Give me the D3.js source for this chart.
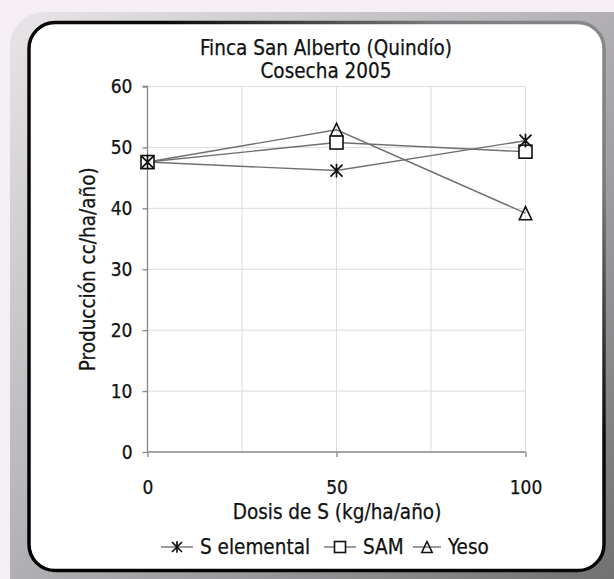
<!DOCTYPE html>
<html><head><meta charset="utf-8">
<script src="https://cdn.jsdelivr.net/npm/d3@7"></script>
<style>
html,body{margin:0;padding:0;background:#f5eff3;}
svg{display:block;}
text{font-family:"DejaVu Sans Condensed","DejaVu Sans",sans-serif;font-stretch:condensed;fill:#111;stroke:#111;stroke-width:0.25px;}
</style></head>
<body>
<script>
const doses = [0, 50, 100];
const seriesNames = ["S elemental", "SAM", "Yeso"];
const sElemental = [47.6, 46.2, 51.1];
const sam = [47.6, 50.8, 49.3];
const yeso = [47.6, 52.9, 39.2];
const yTicks = [0, 10, 20, 30, 40, 50, 60];
const xTicks = [0, 50, 100];
const xGrid = [25, 50, 75, 100];
const titleLines = ["Finca San Alberto (Quindío)", "Cosecha 2005"];
const xTitle = "Dosis de S (kg/ha/año)";
const yTitle = "Producción cc/ha/año)";

const W = 614, H = 579;
const svg = d3.select("body").append("svg").attr("width", W).attr("height", H);
const defs = svg.append("defs");

const g1 = defs.append("linearGradient").attr("id","bevel").attr("x1",0).attr("y1",0).attr("x2",1).attr("y2",1);
g1.append("stop").attr("offset",0).attr("stop-color","#e8e4e8");
g1.append("stop").attr("offset",0.45).attr("stop-color","#b4b2b6");
g1.append("stop").attr("offset",1).attr("stop-color","#6a6a6a");
const g2 = defs.append("linearGradient").attr("id","edge").attr("x1",0).attr("y1",1).attr("x2",1).attr("y2",0);
g2.append("stop").attr("offset",0).attr("stop-color","#000");
g2.append("stop").attr("offset",0.62).attr("stop-color","#0a0a0a");
g2.append("stop").attr("offset",0.85).attr("stop-color","#7a7a7a");
g2.append("stop").attr("offset",1).attr("stop-color","#8a8a8a");

svg.append("rect").attr("x",10).attr("y",12).attr("width",640).attr("height",600)
  .attr("rx",34).attr("fill","url(#bevel)");
svg.append("rect").attr("x",29).attr("y",22.5).attr("width",575).attr("height",548)
  .attr("rx",26).attr("fill","#fff").attr("stroke","url(#edge)").attr("stroke-width",3.5);

const x = d3.scaleLinear().domain([0,100]).range([147.5,525.5]);
const y = d3.scaleLinear().domain([0,60]).range([452,86.5]);

svg.append("g").selectAll("line").data(yTicks.filter(d=>d>0)).join("line")
  .attr("x1",x(0)).attr("x2",x(100)).attr("y1",d=>y(d)).attr("y2",d=>y(d))
  .attr("stroke","#dcdcdc").attr("stroke-width",1);
svg.append("g").selectAll("line").data(xGrid).join("line")
  .attr("x1",d=>x(d)).attr("x2",d=>x(d)).attr("y1",y(0)).attr("y2",y(60))
  .attr("stroke","#dcdcdc").attr("stroke-width",1);

const yAxis = svg.append("g").attr("transform",`translate(${x(0)},0)`)
  .call(d3.axisLeft(y).tickValues(yTicks).tickSize(5).tickPadding(10).tickFormat(d3.format("d")));
const xAxis = svg.append("g").attr("transform",`translate(0,${y(0)})`)
  .call(d3.axisBottom(x).tickValues(xTicks).tickSize(5).tickPadding(24).tickFormat(d3.format("d")));
[yAxis,xAxis].forEach(a=>{
  a.select(".domain").attr("stroke","#858585").attr("stroke-width",1.3);
  a.selectAll(".tick line").attr("stroke","#858585").attr("stroke-width",1.3);
  a.selectAll(".tick text").attr("font-size",19).attr("fill","#111")
    .attr("font-family",'"DejaVu Sans Condensed","DejaVu Sans",sans-serif');
});
yAxis.select(".domain").attr("d",`M-5,${y(60)}H0V${y(0)}`);
xAxis.select(".domain").attr("d",`M${x(0)},0H${x(100)}`);

function marker(sel, type, s){
  if(type===0){
    const r=s/2;
    sel.append("path").attr("d",`M${-r},${-r}L${r},${r}M${-r},${r}L${r},${-r}M0,${-r*1.15}V${r*1.15}`)
      .attr("stroke","#111").attr("stroke-width",1.7).attr("fill","none");
  } else if(type===1){
    sel.append("rect").attr("x",-s/2).attr("y",-s/2).attr("width",s).attr("height",s)
      .attr("fill","#fff").attr("stroke","#111").attr("stroke-width",1.6);
  } else {
    const h=s*1.0, w=s*0.95;
    sel.append("path").attr("d",`M0,${-h/2}L${w/2},${h/2}L${-w/2},${h/2}Z`)
      .attr("fill","none").attr("stroke","#111").attr("stroke-width",1.6);
  }
}

const allSeries = [sElemental, sam, yeso];
const line = d3.line().x((d,i)=>x(doses[i])).y(d=>y(d));
allSeries.forEach((vals)=>{
  svg.append("path").datum(vals).attr("d",line).attr("fill","none")
    .attr("stroke","#707070").attr("stroke-width",1.4);
});
[yeso, sam, sElemental].forEach((vals)=>{
  const k = allSeries.indexOf(vals);
  vals.forEach((v,i)=>{
    const g = svg.append("g").attr("transform",`translate(${x(doses[i])},${y(v)})`);
    marker(g,k,k===0?12:13);
  });
});

svg.append("g").selectAll("text").data(titleLines).join("text")
  .attr("x",326).attr("y",(d,i)=>55+i*23).attr("text-anchor","middle").attr("font-size",20.5).text(d=>d);
svg.append("text").attr("x",337).attr("y",519).attr("text-anchor","middle").attr("font-size",20.5).text(xTitle);
svg.append("text").attr("transform",`translate(95,${(y(0)+y(60))/2}) rotate(-90)`)
  .attr("text-anchor","middle").attr("font-size",20.5).text(yTitle);

const legX = [161, 324, 413];
const legLen = [32, 32, 28];
const leg = svg.append("g");
seriesNames.forEach((name,k)=>{
  const g = leg.append("g").attr("transform",`translate(${legX[k]},547)`);
  g.append("line").attr("x1",0).attr("x2",legLen[k]).attr("y1",0).attr("y2",0).attr("stroke","#707070").attr("stroke-width",1.4);
  const m = g.append("g").attr("transform",`translate(${legLen[k]/2},0)`);
  marker(m,k,k===0?10:11);
  g.append("text").attr("x",legLen[k]+7).attr("y",7).attr("font-size",20.5).text(name);
});
</script>
</body></html>
